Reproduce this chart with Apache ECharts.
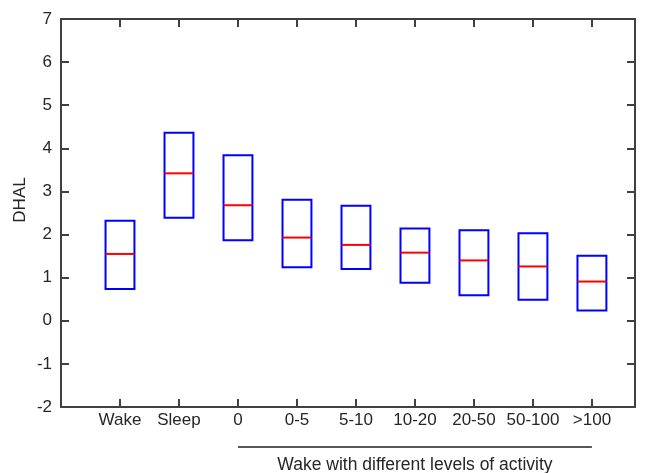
<!DOCTYPE html>
<html>
<head>
<meta charset="utf-8">
<script src="https://cdn.jsdelivr.net/npm/echarts@6/dist/echarts.min.js"></script>
<style>
  html, body { margin: 0; padding: 0; background: #fff; }
  #main { width: 646px; height: 473px; }
</style>
</head>
<body>
<div id="main"></div>
<script>
// box data
var categories = ['Wake', 'Sleep', '0', '0-5', '5-10', '10-20', '20-50', '50-100', '>100'];
var q1 = [0.74, 2.39, 1.87, 1.24, 1.20, 0.88, 0.59, 0.49, 0.24];
var median = [1.55, 3.42, 2.68, 1.93, 1.76, 1.58, 1.40, 1.26, 0.91];
var q3 = [2.32, 4.36, 3.84, 2.81, 2.67, 2.14, 2.10, 2.03, 1.51];
var yTicks = [-2, -1, 0, 1, 2, 3, 4, 5, 6, 7];

var font = 'Liberation Sans, Arial, sans-serif';
var axisColor = '#404040';
var textColor = '#262626';

var boxData = categories.map(function (c, i) {
    return [i + 1, q1[i], median[i], q3[i]];
});

var myChart = echarts.init(document.getElementById('main'));

function xLabel(v) {
    var i = Math.round(v);
    if (Math.abs(v - i) > 1e-6 || i < 1 || i > categories.length) return '';
    return categories[i - 1];
}

var baseX = {
    type: 'value',
    min: 0,
    max: 9.73,
    interval: 1,
    splitLine: { show: false },
    axisLine: { show: true, onZero: false, lineStyle: { color: axisColor, width: 2 } },
    axisTick: { show: true, inside: true, length: 8, lineStyle: { color: axisColor, width: 2 } }
};
var baseY = {
    type: 'value',
    min: yTicks[0],
    max: yTicks[yTicks.length - 1],
    interval: 1,
    splitLine: { show: false },
    axisLine: { show: true, onZero: false, lineStyle: { color: axisColor, width: 2 } },
    axisTick: { show: true, inside: true, length: 8, lineStyle: { color: axisColor, width: 2 } }
};

const options = {
    backgroundColor: '#fff',
    animation: false,
    grid: { left: 61, right: 11, top: 19, bottom: 66 },
    xAxis: [
        Object.assign({}, baseX, {
            position: 'bottom',
            axisLabel: {
                formatter: xLabel, margin: 5, showMaxLabel: false,
                color: textColor, fontSize: 17, fontFamily: font
            }
        }),
        Object.assign({}, baseX, { position: 'top', axisLabel: { show: false } })
    ],
    yAxis: [
        Object.assign({}, baseY, {
            position: 'left',
            axisLabel: { margin: 9, color: textColor, fontSize: 17, fontFamily: font }
        }),
        Object.assign({}, baseY, { position: 'right', axisLabel: { show: false } })
    ],
    series: [
        {
            type: 'custom',
            data: boxData,
            encode: { x: 0, y: [1, 2, 3] },
            renderItem: function (params, api) {
                var x = api.value(0);
                var lo = api.coord([x, api.value(1)]);
                var md = api.coord([x, api.value(2)]);
                var hi = api.coord([x, api.value(3)]);
                var w = api.size([0.49, 0])[0];
                return {
                    type: 'group',
                    children: [
                        {
                            type: 'rect',
                            shape: { x: lo[0] - w / 2, y: hi[1], width: w, height: lo[1] - hi[1] },
                            style: { fill: null, stroke: '#0000ff', lineWidth: 2 }
                        },
                        {
                            type: 'line',
                            shape: { x1: md[0] - w / 2, y1: md[1], x2: md[0] + w / 2, y2: md[1] },
                            style: { stroke: '#ff0000', lineWidth: 2 }
                        }
                    ]
                };
            }
        }
    ]
};
myChart.setOption(options);

// bracket under the activity groups + axis names
var p0 = myChart.convertToPixel({ xAxisIndex: 0 }, 3);
var p1 = myChart.convertToPixel({ xAxisIndex: 0 }, 9);
myChart.setOption({
    graphic: [
        {
            type: 'line',
            shape: { x1: p0, y1: 447, x2: p1, y2: 447 },
            style: { stroke: '#222', lineWidth: 1.5 }
        },
        {
            type: 'text',
            x: (p0 + p1) / 2,
            y: 465,
            style: {
                text: 'Wake with different levels of activity',
                fill: textColor, font: '17.5px ' + font,
                textAlign: 'center', textVerticalAlign: 'middle'
            }
        },
        {
            type: 'text',
            x: 20,
            y: 200,
            rotation: Math.PI / 2,
            style: {
                text: 'DHAL',
                fill: textColor, font: '17px ' + font,
                textAlign: 'center', textVerticalAlign: 'middle'
            }
        }
    ]
});
</script>
</body>
</html>
